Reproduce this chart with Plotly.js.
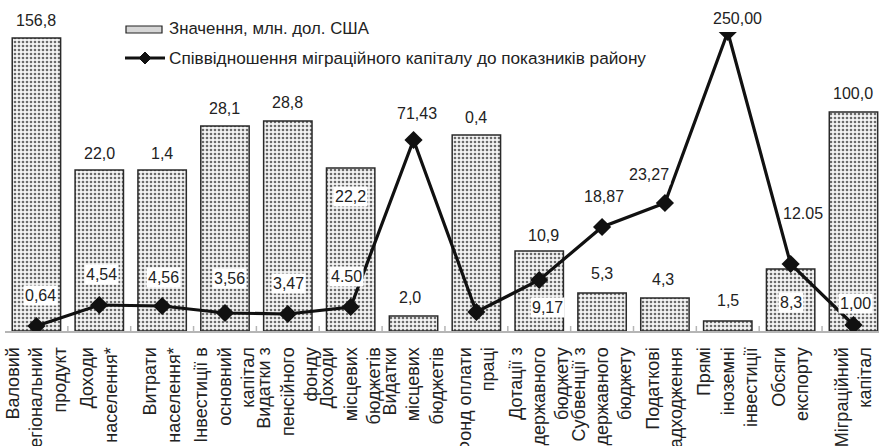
<!DOCTYPE html>
<html>
<head>
<meta charset="utf-8">
<script src="https://cdn.plot.ly/plotly-3.0.1.min.js"></script>
<style>html,body{margin:0;padding:0;background:#fff;} #chart{width:879px;height:446px;}</style>
</head>
<body>
<div id="chart"></div>
<script>
// ---- data ----
const categories = [
  'Валовий<br>регіональний<br>продукт',
  'Доходи<br>населення*',
  'Витрати<br>населення*',
  'Інвестиції в<br>основний<br>капітал',
  'Видатки з<br>пенсійного<br>фонду',
  'Доходи<br>місцевих<br>бюджетів',
  'Видатки<br>місцевих<br>бюджетів',
  'Фонд оплати<br>праці',
  'Дотації з<br>державного<br>бюджету',
  'Субвенції з<br>державного<br>бюджету',
  'Податкові<br>надходження',
  'Прямі<br>іноземні<br>інвестиції',
  'Обсяги<br>експорту',
  'Міграційний<br>капітал'
];
// relative bar heights as drawn (no value axis is shown in the source)
const barLevel  = [293, 161, 161, 205, 210, 163, 15, 196, 80, 38, 33, 10, 62, 219];
// relative heights of the ratio line as drawn
const lineLevel = [5, 26, 25, 18, 17, 24, 191, 19, 51, 104, 128, 299, 67, 6];
// printed labels
const barLabels  = ['156,8','22,0','1,4','28,1','28,8','22,2','2,0','0,4','10,9','5,3','4,3','1,5','8,3','100,0'];
const lineLabels = ['0,64','4,54','4,56','3,56','3,47','4.50','71,43','','9,17','18,87','23,27','250,00','12.05','1,00'];
const seriesNames = ['Значення, млн. дол. США', 'Співвідношення міграційного капіталу до показників району'];

// ---- label placement (pixels, layout only) ----
const barLabelDy  = [18,17,17,18,19,-28,19,18,16,20,19,21,-33,19];
const barLabelDx  = [0,0,0,0,0,0,-4,0,4,0,-2,0,0,0];
const lineLabelDx = [4,2,1,5,1,-4,3,0,8,2,-16,10,12,2];
const lineLabelDy = [31,31,29,35,31,31,27,0,-27,31,29,14,51,22];

const FONT = 'Liberation Sans, Arial, sans-serif';
const idx = categories.map((_, i) => i);

const bars = {
  type: 'bar', x: idx, y: barLevel, name: seriesNames[0], width: 0.77,
  marker: {color: '#eeeeee', line: {color: '#2a2a2a', width: 1.5},
    pattern: {shape: '.', size: 4, solidity: 0.35, fgcolor: '#6a6a6a', bgcolor: '#f4f4f4'}},
  hoverinfo: 'none', showlegend: false
};
const line = {
  type: 'scatter', mode: 'lines+markers', x: idx, y: lineLevel, name: seriesNames[1],
  line: {color: '#111', width: 3.2},
  marker: {symbol: 'diamond', size: 14, color: '#111'},
  hoverinfo: 'none', showlegend: false
};

const annotations = [];
idx.forEach(i => {
  annotations.push({x: i, y: barLevel[i], xref: 'x', yref: 'y', text: barLabels[i], showarrow: false,
    xanchor: 'center', yanchor: 'middle', xshift: barLabelDx[i], yshift: barLabelDy[i],
    font: {family: FONT, size: 16, color: '#222'}, bgcolor: barLabelDy[i] < 0 ? '#ffffff' : 'rgba(0,0,0,0)', borderpad: 1});
  if (lineLabels[i]) {
    annotations.push({x: i, y: lineLevel[i], xref: 'x', yref: 'y', text: lineLabels[i], showarrow: false,
      xanchor: 'center', yanchor: 'middle', xshift: lineLabelDx[i], yshift: lineLabelDy[i],
      font: {family: FONT, size: 16, color: '#222'}, bgcolor: '#ffffff', borderpad: 1});
  }
});
// legend texts
const L = 5, W = 874, B = 331, H = 299;
const px = v => (v - L) / W, py = v => (B - v) / H;
annotations.push({x: px(167), y: py(28), xref: 'paper', yref: 'paper', text: seriesNames[0], showarrow: false,
  xanchor: 'left', yanchor: 'middle', font: {family: FONT, size: 16.8, color: '#222'}});
annotations.push({x: px(167), y: py(58), xref: 'paper', yref: 'paper', text: seriesNames[1], showarrow: false,
  xanchor: 'left', yanchor: 'middle', font: {family: FONT, size: 17.2, color: '#222'}});

const shapes = [
  {type: 'rect', xref: 'paper', yref: 'paper', x0: px(126), x1: px(162), y0: py(33), y1: py(26),
    fillcolor: '#d6d6d6', line: {color: '#222', width: 1.2}},
  {type: 'line', xref: 'paper', yref: 'paper', x0: px(125), x1: px(165), y0: py(58), y1: py(58),
    line: {color: '#111', width: 3}},
  {type: 'path', xref: 'paper', yref: 'paper', xsizemode: 'pixel', ysizemode: 'pixel',
    xanchor: px(145), yanchor: py(58), path: 'M0,6 L6,0 L0,-6 L-6,0 Z', fillcolor: '#111', line: {color: '#111', width: 1}}
];

const layout = {
  width: 879, height: 446,
  margin: {l: L, r: 0, t: 32, b: 115, pad: 0},
  paper_bgcolor: '#fff', plot_bgcolor: '#fff',
  showlegend: false,
  xaxis: {
    type: 'linear', range: [-0.5, -0.5 + W / 62.85], tickmode: 'array', tickvals: idx, ticktext: categories,
    tickangle: -90, showgrid: false, zeroline: false, showline: true, linecolor: '#b5b5b5', linewidth: 2,
    ticks: '', tickfont: {family: FONT, size: 18, color: '#222'}, automargin: false, fixedrange: true,
    ticklabelstandoff: 7
  },
  yaxis: {range: [0, H], visible: false, fixedrange: true, automargin: false},
  annotations: annotations,
  shapes: shapes.concat(idx.slice(0, 13).map(i => ({
    type: 'line', xref: 'x', yref: 'y', x0: i + 0.5, x1: i + 0.5, y0: -5, y1: 5,
    line: {color: '#b5b5b5', width: 1.5}
  })))
};

Plotly.newPlot('chart', [bars, line], layout, {displayModeBar: false, staticPlot: true});
</script>
</body>
</html>
